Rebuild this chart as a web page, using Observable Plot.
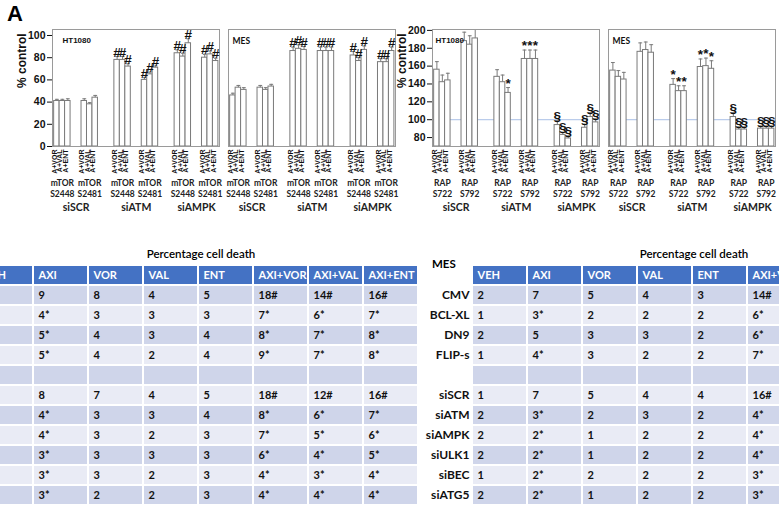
<!DOCTYPE html>
<html>
<head>
<meta charset="utf-8">
<script src="https://cdn.jsdelivr.net/npm/d3@7"></script>
<script src="https://cdn.jsdelivr.net/npm/@observablehq/plot@0.6"></script>
<style>
  body { margin: 0; background: #fff; }
  #fig { position: relative; width: 779px; height: 506px; overflow: hidden; font-family: "Liberation Sans", Arial, sans-serif; }
  #fig > * { position: absolute; }
  .panel-tag { left: 7px; top: 1px; font: bold 22px "Liberation Sans", Arial, sans-serif; }
  .tbl-title { top: 247px; font: 600 11.5px Lato, sans-serif; transform: translateX(-50%); white-space: nowrap; }
  .tbl-corner { left: 432px; top: 257px; font: bold 11.5px Lato, sans-serif; }
</style>
</head>
<body>
<div id="fig"></div>
<script>
// ---- bar chart data: siRNA -> phospho-site -> drug combination ----
const drugs = ["A+VOR", "A+VAL", "A+ENT"];
const sirnas = ["siSCR", "siATM", "siAMPK"];
const mtorSites = ["S2448", "S2481"];
const raptorSites = ["S722", "S792"];

// p-mTOR, % control
const mtorHT1080 = [41, 41, 41, 41, 38, 44, 78, 78, 72, 60, 65, 71, 84, 81, 93, 80, 83, 77];
const mtorHT1080Err = [1.5, 1.5, 2, 2, 1.5, 2, 3, 3, 2.5, 2, 2, 1.5, 3, 3, 4, 3, 3, 2.5];
const mtorHT1080Sig = ["", "", "", "", "", "", "#", "#", "#", "#", "#", "#", "#", "#", "#", "#", "#", "#"];

const mtorMES = [46, 53, 51, 53, 51, 54, 86, 88, 87, 86, 86, 86, 82, 77, 87, 76, 76, 86];
const mtorMESErr = [2, 2, 2, 2, 2, 2, 3.5, 3.5, 3, 3.5, 3.5, 3.5, 3.5, 3, 3.5, 3, 3, 3.5];
const mtorMESSig = ["", "", "", "", "", "", "#", "#", "#", "#", "#", "#", "#", "#", "#", "#", "#", "#"];

// p-RAPTOR, % control
const rapHT1080 = [156, 142, 144, 188, 184, 191, 148, 142, 130, 168, 168, 168, 94, 83, 79, 91, 103, 97];
const rapHT1080Err = [9, 8, 8, 10, 10, 10, 8, 8, 6, 10, 10, 10, 5, 3, 3, 4, 5, 4];
const rapHT1080Sig = ["", "", "", "", "", "", "", "", "*", "*", "*", "*", "§", "§", "§", "§", "§", "§"];

const rapMES = [155, 148, 145, 176, 178, 175, 139, 132, 132, 159, 160, 157, 103, 89, 89, 90, 90, 90];
const rapMESErr = [9, 7, 8, 10, 9, 9, 7, 6, 6, 9, 9, 9, 5, 3, 3, 3, 3, 3];
const rapMESSig = ["", "", "", "", "", "", "*", "*", "*", "*", "*", "*", "§", "§", "§", "§", "§", "§"];

const mtorTicks = [0, 20, 40, 60, 80, 100];
const rapTicks = [80, 100, 120, 140, 160, 180, 200];

// ---- table data: percentage cell death ----
const tableCols = ["VEH", "AXI", "VOR", "VAL", "ENT", "AXI+VOR", "AXI+VAL", "AXI+ENT"];
const ht1080Rows = [
  ["", "9", "8", "4", "5", "18#", "14#", "16#"],
  ["", "4*", "3", "3", "3", "7*", "6*", "7*"],
  ["", "5*", "4", "3", "4", "8*", "7*", "8*"],
  ["", "5*", "4", "2", "4", "9*", "7*", "8*"],
  ["", "", "", "", "", "", "", ""],
  ["", "8", "7", "4", "5", "18#", "12#", "16#"],
  ["", "4*", "3", "3", "4", "8*", "6*", "7*"],
  ["", "4*", "3", "2", "3", "7*", "5*", "6*"],
  ["", "3*", "3", "3", "3", "6*", "4*", "5*"],
  ["", "3*", "3", "2", "3", "4*", "3*", "4*"],
  ["", "3*", "2", "2", "3", "4*", "4*", "4*"]
];
const mesRowLabels = ["CMV", "BCL-XL", "DN9", "FLIP-s", "", "siSCR", "siATM", "siAMPK", "siULK1", "siBEC", "siATG5"];
const mesRows = [
  ["2", "7", "5", "4", "3", "14#"],
  ["1", "3*", "2", "2", "2", "6*"],
  ["2", "5", "3", "3", "2", "6*"],
  ["1", "4*", "3", "2", "2", "7*"],
  ["", "", "", "", "", ""],
  ["1", "7", "5", "4", "4", "16#"],
  ["2", "3*", "2", "3", "2", "4*"],
  ["2", "2*", "1", "2", "2", "4*"],
  ["2", "2*", "1", "2", "2", "4*"],
  ["1", "2*", "2", "2", "2", "3*"],
  ["2", "2*", "1", "2", "2", "3*"]
];

const fig = document.getElementById("fig");
const FONT = '"Liberation Sans", Arial, sans-serif';
const LATO = "Lato, sans-serif";

// slot position of bar i: 3 drugs per site, 2 sites per siRNA, gaps between groups
const slotOf = i => Math.floor(i / 6) * 11 + (Math.floor(i / 3) % 2) * 5 + (i % 3);

function barPanel({values, errs, sigs, protein, sites, cell, cellFont, cellDx, yDomain, yTicks, showAxis, refLine, left}) {
  const marginLeft = showAxis ? 52 : 4;
  const bars = values.map((v, i) => ({v, e: errs[i], sig: sigs[i], slot: slotOf(i), drug: drugs[i % 3]}));
  const groups = [];
  sirnas.forEach((s, p) => sites.forEach((site, k) => groups.push({x: p * 11 + k * 5 + 1.5, label: protein + "\n" + site})));
  const pairs = sirnas.map((s, p) => ({x: p * 11 + 4, label: s}));
  const y0 = yDomain[0];

  const marks = [];
  if (refLine != null) marks.push(Plot.ruleY([refLine], {stroke: "#a9bfe6", strokeWidth: 1}));
  marks.push(
    Plot.rectY(bars, {x1: d => d.slot, x2: d => d.slot + 1, y1: y0, y2: "v", fill: "white", stroke: "#7a7a7a", strokeWidth: 1}),
    Plot.ruleX(bars, {x: d => d.slot + 0.5, y1: "v", y2: d => d.v + d.e, stroke: "#7a7a7a", strokeWidth: 1}),
    Plot.link(bars, {x1: d => d.slot + 0.15, x2: d => d.slot + 0.85, y1: d => d.v + d.e, y2: d => d.v + d.e, stroke: "#7a7a7a", strokeWidth: 1}),
    Plot.frame({stroke: "#9a9a9a", strokeWidth: 1}),
    Plot.text(bars.filter(d => d.sig), {x: d => d.slot + 0.5, y: d => d.v + d.e, text: "sig", lineAnchor: "bottom", dy: 0, fontSize: 13.5, fontWeight: "bold", fill: "#111"}),
    Plot.text([cell], {frameAnchor: "top-left", dx: cellDx, dy: 8, text: d => d, fontSize: cellFont.size, fontWeight: "bold", fontFamily: cellFont.family, fill: "#111"}),
    Plot.text(bars, {x: d => d.slot + 0.5, frameAnchor: "bottom", dy: 3, text: "drug", rotate: -90, textAnchor: "end", fontSize: 7, fontWeight: "bold", fill: "#111"}),
    Plot.text(groups, {x: "x", frameAnchor: "bottom", dy: 32, text: "label", lineAnchor: "top", lineHeight: 1.25, fontSize: 8.5, fontWeight: "bold", fontFamily: LATO, fill: "#222"}),
    Plot.text(pairs, {x: "x", frameAnchor: "bottom", dy: 64, text: "label", fontSize: 10.5, fontWeight: "bold", fontFamily: LATO, fill: "#222"})
  );
  if (showAxis) {
    marks.push(Plot.text(["% control"], {frameAnchor: "left", dx: -30, rotate: -90, text: d => d, fontSize: 12, fontWeight: "bold", fill: "#111"}));
  }

  const svg = Plot.plot({
    width: marginLeft + 167 + 3,
    height: 216,
    marginTop: 29,
    marginBottom: 70,
    marginLeft,
    marginRight: 3,
    x: {domain: [-0.3, 30.2], axis: null},
    y: showAxis
      ? {domain: yDomain, ticks: yTicks, tickSize: 5, tickPadding: 2, label: null}
      : {domain: yDomain, axis: null},
    style: {fontFamily: FONT, fontSize: "10.5px", fontWeight: "bold", color: "#111", background: "transparent", overflow: "visible"},
    marks
  });
  svg.style.left = left + "px";
  svg.style.top = "0px";
  fig.appendChild(svg);
}

barPanel({values: mtorHT1080, errs: mtorHT1080Err, sigs: mtorHT1080Sig, protein: "mTOR", sites: mtorSites,
  cell: "HT1080", cellFont: {size: 8, family: FONT}, cellDx: 10, yDomain: [0, 105.4], yTicks: mtorTicks, showAxis: true, left: 0});
barPanel({values: mtorMES, errs: mtorMESErr, sigs: mtorMESSig, protein: "mTOR", sites: mtorSites,
  cell: "MES", cellFont: {size: 8.5, family: LATO}, cellDx: 4, yDomain: [0, 105.4], yTicks: mtorTicks, showAxis: false, left: 224});
barPanel({values: rapHT1080, errs: rapHT1080Err, sigs: rapHT1080Sig, protein: "RAP", sites: raptorSites,
  cell: "HT1080", cellFont: {size: 8, family: FONT}, cellDx: 3, yDomain: [70, 201], yTicks: rapTicks, showAxis: true, refLine: 100, left: 380});
barPanel({values: rapMES, errs: rapMESErr, sigs: rapMESSig, protein: "RAP", sites: raptorSites,
  cell: "MES", cellFont: {size: 8.5, family: LATO}, cellDx: 4, yDomain: [70, 201], yTicks: rapTicks, showAxis: false, refLine: 100, left: 604});

// ---- tables ----
const CELL_W = 55;
function table({rows, rowLabels, marginLeft, left}) {
  const cols = tableCols;
  const cells = [];
  cols.forEach(c => cells.push({row: 0, col: c, text: c}));
  rows.forEach((r, i) => cols.forEach((c, j) => cells.push({row: i + 1, col: c, text: r[j] ?? ""})));
  const marks = [];
  if (rowLabels) {
    marks.push(Plot.text(rowLabels.map((t, i) => ({t, row: i + 1})).filter(d => d.t), {
      x: () => cols[0], y: "row", text: "t", textAnchor: "end", dx: -CELL_W / 2 - 3,
      fontSize: 12, fontWeight: "bold", fontFamily: LATO, fill: "#111"
    }));
  }
  marks.push(
    Plot.cell(cells, {x: "col", y: "row", inset: 1,
      fill: d => d.row === 0 ? "#4472c4" : (d.row % 2 ? "#cfd5ea" : "#e9ebf5")}),
    Plot.text(cells.filter(d => d.text), {x: "col", y: "row", text: "text", textAnchor: "start", dx: -CELL_W / 2 + 5,
      fill: d => d.row === 0 ? "#ffffff" : "#111111", fontSize: 11, fontWeight: "bold", fontFamily: LATO})
  );
  const svg = Plot.plot({
    width: marginLeft + cols.length * CELL_W,
    height: 240,
    marginTop: 0, marginBottom: 0, marginRight: 0, marginLeft,
    x: {domain: cols, axis: null, padding: 0},
    y: {domain: d3.range(rows.length + 1), axis: null, padding: 0},
    color: {type: "identity"},
    style: {background: "transparent", overflow: "visible"},
    marks
  });
  svg.style.left = left + "px";
  svg.style.top = "265px";
  fig.appendChild(svg);
}

table({rows: ht1080Rows, marginLeft: 0, left: -22});
table({rows: mesRows, rowLabels: mesRowLabels, marginLeft: 72, left: 400});

// ---- headings ----
function addDiv(cls, text, style) {
  const d = document.createElement("div");
  d.className = cls;
  d.textContent = text;
  Object.assign(d.style, style || {});
  fig.appendChild(d);
}
addDiv("panel-tag", "A");
addDiv("tbl-title", "Percentage cell death", {left: "201px"});
addDiv("tbl-title", "Percentage cell death", {left: "694px"});
addDiv("tbl-corner", "MES");
</script>
</body>
</html>
